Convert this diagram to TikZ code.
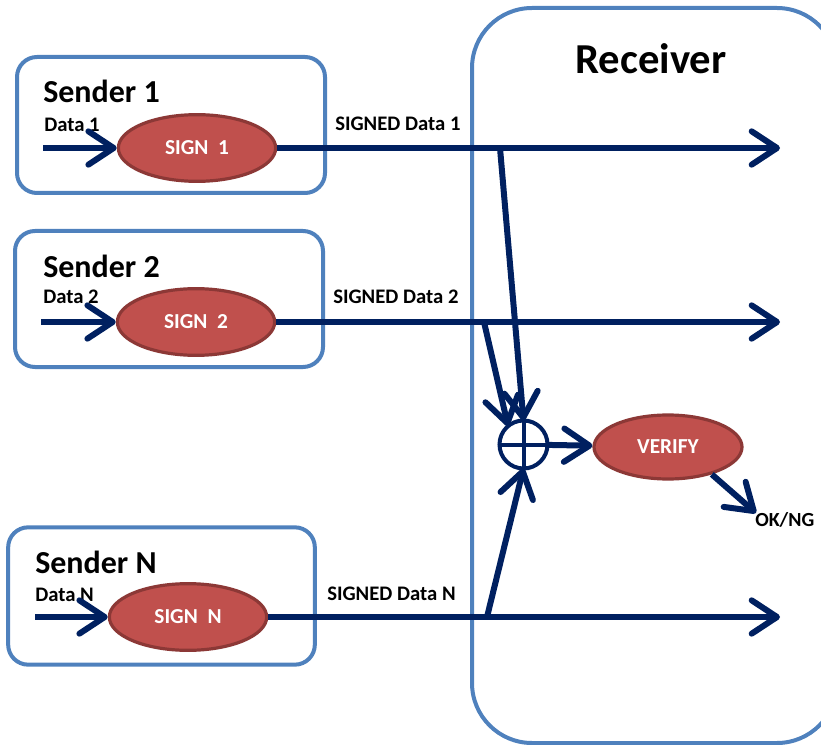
\documentclass[tikz,border=0pt]{standalone}
\usepackage{fontspec}
\setmainfont{Carlito}
\usetikzlibrary{arrows.meta,shapes.geometric}

\definecolor{boxblue}{RGB}{79,129,189}
\definecolor{signred}{RGB}{192,80,77}
\definecolor{signline}{RGB}{140,56,54}
\definecolor{navy}{RGB}{0,32,96}

\begin{document}
\begin{tikzpicture}[x=0.75pt, y=-0.75pt,
    box/.style={draw=boxblue, line width=3pt, rounded corners=15pt},
    sign/.style={ellipse, draw=signline, fill=signred, line width=2.4pt, text=white,
        minimum width=118pt, minimum height=50pt, font=\bfseries\fontsize{16}{19}\selectfont},
    flow/.style={draw=navy, line width=4.5pt, -{Straight Barb[length=19pt, width=25pt, round]}},
    title/.style={anchor=base west, inner sep=0pt, font=\bfseries\fontsize{24}{27}\selectfont},
    lbl/.style={anchor=base west, inner sep=0pt, font=\bfseries\fontsize{15.5}{18}\selectfont}]
    \useasboundingbox (0,0) rectangle (821,745);
    \clip (0,0) rectangle (821,745);

    % Boxes
    \draw[box, rounded corners=45pt] (472,8) rectangle (837,743);
    \node[box, minimum width=231pt, minimum height=102pt] (snd1) at (171,125) {};
    \node[box, minimum width=231pt, minimum height=102pt] (snd2) at (169,299) {};
    \node[box, minimum width=230pt, minimum height=103pt] (sndN) at (161.5,596) {};
    \node[anchor=base, inner sep=0pt, font=\bfseries\fontsize{32}{36}\selectfont] (recv) at (651,74) {Receiver};

    % Nodes
    \node[title] (t1) at (43,103) {Sender 1};
    \node[title] (t2) at (43,278) {Sender 2};
    \node[title] (tN) at (35,573) {Sender N};
    \node[lbl] (l1) at (44,132) {Data 1};
    \node[lbl] (l2) at (43,304) {Data 2};
    \node[lbl] (lN) at (35,601) {Data N};
    \node[lbl] (s1) at (335,131) {SIGNED Data 1};
    \node[lbl] (s2) at (333,304) {SIGNED Data 2};
    \node[lbl] (sN) at (327,600) {SIGNED Data N};
    \node[sign] (sg1) at (197,148) {SIGN\ \ 1};
    \node[sign] (sg2) at (196,322) {SIGN\ \ 2};
    \node[sign] (sgN) at (188,617) {SIGN\ \ N};
    \node[sign, minimum width=111pt, minimum height=48pt] (vf) at (668,447) {VERIFY};
    \node[circle, draw=navy, line width=3pt, minimum size=36pt, outer sep=0pt] (xor) at (523.5,444.5) {};
    \draw[navy, line width=3pt] (xor.north) -- (xor.south) (xor.west) -- (xor.east);
    \node[lbl, font=\bfseries\fontsize{15}{18}\selectfont] (res) at (755,526) {OK/NG};

    \coordinate (d1) at (43,148);
    \coordinate (d2) at (41,322);
    \coordinate (dN) at (35,617);
    \coordinate (o1) at (780,148);
    \coordinate (o2) at (780,322);
    \coordinate (oN) at (780,617);
    \coordinate (j1) at (500,148);
    \coordinate (j2) at (484,322);
    \coordinate (jN) at (487,617);
    \coordinate (ok) at (756,513);

    % Arrows
    \draw[flow] (d1) -- (sg1);
    \draw[flow] (d2) -- (sg2);
    \draw[flow] (dN) -- (sgN);
    \draw[flow] (sg1) -- (o1);
    \draw[flow] (sg2) -- (o2);
    \draw[flow] (sgN) -- (oN);
    \draw[flow] (j1) -- (xor.north);
    \draw[flow] (j2) -- (xor.130);
    \draw[flow] (jN) -- (xor.south);
    \draw[flow] (xor) -- (vf);
    \draw[flow] (vf.-32) -- (ok);
\end{tikzpicture}
\end{document}
